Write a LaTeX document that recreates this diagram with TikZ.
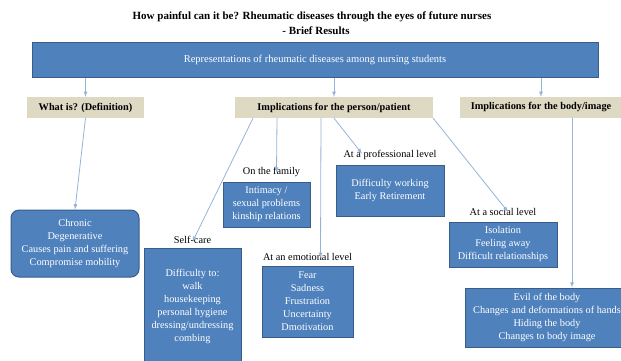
\documentclass[tikz,border=0pt]{standalone}
\usepackage{fontspec}
\setmainfont{Liberation Serif}
\usepackage{tikz}
\usetikzlibrary{shapes,arrows,positioning}
\definecolor{boxblue}{RGB}{79,129,189}
\definecolor{boxline}{RGB}{56,93,138}
\definecolor{themetan}{RGB}{221,217,195}
\definecolor{linkblue}{RGB}{149,179,215}
\tikzstyle{rep} = [rectangle, draw=boxline, line width=1pt, fill=boxblue, text=white, align=center, inner sep=0pt, font=\fontsize{10.3}{13}\selectfont]
\tikzstyle{theme} = [rectangle, fill=themetan, text=black, align=center, inner sep=0pt, minimum height=21pt, font=\bfseries\fontsize{10.3}{11}\selectfont]
\tikzstyle{level} = [text=black, inner sep=1pt, font=\fontsize{10.3}{11}\selectfont]
\tikzstyle{tedge}  = [draw, linkblue, line width=0.8pt, >=latex, ->]

\begin{document}
\begin{tikzpicture}[x=1pt, y=-1pt]
\useasboundingbox (0,0) rectangle (621,360);

% title =============================
\node[font=\bfseries\fontsize{11}{12}\selectfont] (title) at (312,17) {How painful can it be? Rheumatic diseases through the eyes of future nurses};
\node[font=\bfseries\fontsize{11}{12}\selectfont] (subtitle) at (316,31) {- Brief Results};

% main box and themes
\node[rep, minimum width=566pt, minimum height=35pt, font=\fontsize{10.5}{12}\selectfont] (main) at (315,59.5) {Representations of rheumatic diseases among nursing students};
\node[theme, minimum width=117pt] (what) at (85.5,107.5) {What is? (Definition)};
\node[theme, minimum width=198pt] (person) at (334,107.5) {Implications for the person/patient};
\node[theme, minimum width=162pt] (body) at (541,107.5) {Implications for the body/image};

% results
\node[rep, rounded corners=8pt, minimum width=128pt, minimum height=67pt] (chronic) at (75,243.5) {Chronic\\Degenerative\\Causes pain and suffering\\Compromise mobility};
\node[rep, minimum width=97pt, minimum height=117pt] (selfcare) at (192.5,306.5) {Difficulty to:\\walk\\housekeeping\\personal hygiene\\dressing/undressing\\combing};
\node[rep, minimum width=87pt, minimum height=45pt] (family) at (266.5,204.5) {Intimacy /\\sexual problems\\kinship relations};
\node[rep, minimum width=91pt, minimum height=71pt] (emotion) at (307.5,301.5) {Fear\\Sadness\\Frustration\\Uncertainty\\Dmotivation};
\node[rep, minimum width=108pt, minimum height=51pt] (work) at (390,190.5) {Difficulty working\\Early Retirement};
\node[rep, minimum width=108pt, minimum height=45pt] (social) at (503,244.5) {Isolation\\Feeling away\\Difficult relationships};
\node[rep, minimum width=164pt, minimum height=59pt] (image) at (547,317.5) {Evil of the body\\Changes and deformations of  hands\\Hiding the body\\Changes to body image};

% level labels
\node[level, above=3pt of selfcare] (selfcarelbl) {Self-care};
\node[level, above=4pt of family, xshift=5pt] (familylbl) {On the family};
\node[level, above=4pt of emotion] (emotionlbl) {At an emotional level};
\node[level, above=4pt of work] (worklbl) {At a professional level};
\node[level, above=5pt of social] (sociallbl) {At a social level};

% edges
\path[tedge] (main.south -| what) -- (what);
\path[tedge] (main.south -| person) -- (person);
\path[tedge] (main.south -| body) -- (body);
\path[tedge] (what.south) -- (chronic.north);
\path[tedge] ([xshift=-81pt]person.south) -- ([yshift=-7pt]selfcarelbl.north);
\path[tedge] ([xshift=-57pt]person.south) -- ([xshift=5pt, yshift=-7pt]familylbl.north);
\path[tedge] ([xshift=-13pt]person.south) -- ([xshift=13pt, yshift=-6pt]emotionlbl.north);
\path[tedge] (person.south) -- ([xshift=-28pt, yshift=-5pt]worklbl.north);
\path[tedge] (person.south east) -- ([xshift=5pt, yshift=-5pt]sociallbl.north);
\path[tedge] ([xshift=31pt]body.south) -- ([xshift=25pt]image.north);

\end{tikzpicture}
\end{document}
